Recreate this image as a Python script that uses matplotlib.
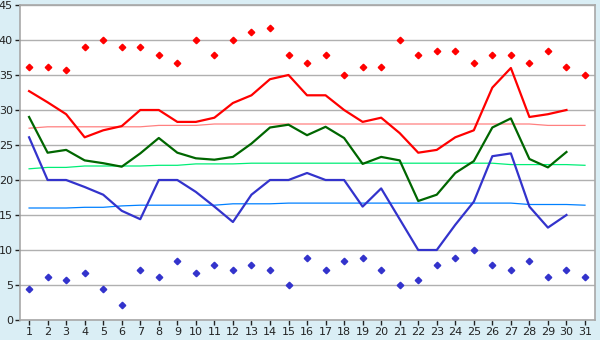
import matplotlib
matplotlib.use("Agg")
import matplotlib.pyplot as plt
import numpy as np

days = list(range(1, 32))

# record highs / lows per day
record_high = [36.1, 36.1, 35.7, 39.0, 40.0, 39.0, 39.0, 37.8, 36.7, 40.0,
               37.8, 40.0, 41.1, 41.7, 37.8, 36.7, 37.8, 35.0, 36.1, 36.1,
               40.0, 37.8, 38.4, 38.4, 36.7, 37.8, 37.8, 36.7, 38.4, 36.1, 35.0]
record_low = [4.4, 6.1, 5.7, 6.7, 4.4, 2.2, 7.2, 6.1, 8.4, 6.7,
              7.8, 7.2, 7.8, 7.2, 5.0, 8.9, 7.2, 8.4, 8.9, 7.2,
              5.0, 5.7, 7.8, 8.9, 10.0, 7.8, 7.2, 8.4, 6.1, 7.2, 6.1]

# observed this month (days 1-30)
obs_max = [32.7, 31.1, 29.4, 26.1, 27.1, 27.7, 30.0, 30.0, 28.3, 28.3,
           28.9, 31.0, 32.1, 34.4, 35.0, 32.1, 32.1, 30.0, 28.3, 28.9,
           26.7, 23.9, 24.3, 26.1, 27.1, 33.2, 36.0, 29.0, 29.4, 30.0]
obs_mean = [29.0, 23.9, 24.3, 22.8, 22.4, 21.9, 23.8, 26.0, 23.9, 23.1,
            22.9, 23.3, 25.2, 27.5, 27.9, 26.4, 27.6, 26.0, 22.3, 23.3,
            22.8, 17.0, 17.9, 21.0, 22.7, 27.5, 28.8, 23.0, 21.8, 24.0]
obs_min = [26.1, 20.0, 20.0, 19.0, 17.9, 15.6, 14.4, 20.0, 20.0, 18.3,
           16.2, 14.0, 17.9, 20.0, 20.0, 21.0, 20.0, 20.0, 16.2, 18.8,
           14.4, 10.0, 10.0, 13.6, 16.9, 23.4, 23.8, 16.2, 13.2, 15.0]

# long-term normals
normal_max = [27.4, 27.6, 27.6, 27.6, 27.6, 27.6, 27.6, 27.8, 27.8, 27.8,
              28.0, 28.0, 28.0, 28.0, 28.0, 28.0, 28.0, 28.0, 28.0, 28.0,
              28.0, 28.0, 28.0, 28.0, 28.0, 28.0, 28.0, 28.0, 27.8, 27.8, 27.8]
normal_mean = [21.6, 21.8, 21.8, 22.0, 22.0, 22.0, 22.0, 22.1, 22.1, 22.3,
               22.3, 22.3, 22.4, 22.4, 22.4, 22.4, 22.4, 22.4, 22.4, 22.4,
               22.4, 22.4, 22.4, 22.4, 22.4, 22.4, 22.2, 22.2, 22.2, 22.2, 22.1]
normal_min = [16.0, 16.0, 16.0, 16.1, 16.1, 16.3, 16.4, 16.4, 16.4, 16.4,
              16.4, 16.6, 16.6, 16.6, 16.7, 16.7, 16.7, 16.7, 16.7, 16.7,
              16.7, 16.7, 16.7, 16.7, 16.7, 16.7, 16.7, 16.5, 16.5, 16.5, 16.4]

bg = "#daeef5"
fig = plt.figure(figsize=(6, 3.4), dpi=100, facecolor=bg)
ax = fig.add_axes([20 / 600, 20 / 340, 575 / 600, 315 / 340])
ax.set_facecolor("white")

ax.set_xlim(0.51, 31.54)
ax.set_ylim(0, 45)
ax.set_yticks(range(0, 46, 5))
ax.set_xticks(days)
ax.grid(axis="y", color="#b0b0b0", linewidth=1)
ax.set_axisbelow(True)

for s in ax.spines.values():
    s.set_color("#a8a8a8")
    s.set_linewidth(1.2)

ax.tick_params(axis="both", labelsize=8, colors="#222222", length=3.5, width=1, pad=1.5)

# normals
ax.plot(days, normal_max, color="#ff8080", linewidth=0.9)
ax.plot(days, normal_mean, color="#00ee77", linewidth=0.9)
ax.plot(days, normal_min, color="#0080ff", linewidth=0.9)

# observed
d30 = days[:30]
ax.plot(d30, obs_max, color="#ff0000", linewidth=1.6)
ax.plot(d30, obs_mean, color="#006600", linewidth=1.6)
ax.plot(d30, obs_min, color="#3333cc", linewidth=1.6)

# records
ax.plot(days, record_high, linestyle="none", marker="D", markersize=3.3, color="#ff0000")
ax.plot(days, record_low, linestyle="none", marker="D", markersize=3.3, color="#3333cc")

fig.savefig("out.png", dpi=100, facecolor=bg)
